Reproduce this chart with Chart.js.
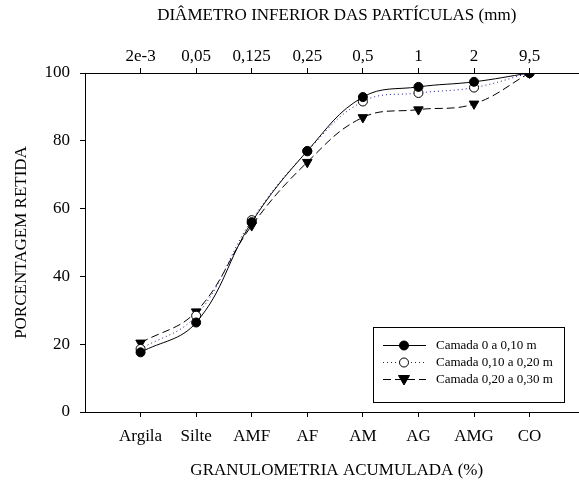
<!DOCTYPE html>
<html>
<head>
<meta charset="utf-8">
<script src="https://cdn.jsdelivr.net/npm/chart.js@4.4.1/dist/chart.umd.min.js"></script>
<style>
  html, body { margin: 0; padding: 0; background: #fff; overflow: hidden; }
  #wrap { width: 579px; height: 483px; overflow: hidden; }
</style>
</head>
<body>
<!-- the plot runs a little past the right edge, like the cropped original -->
<div id="wrap"><canvas id="granChart" width="595" height="483"></canvas></div>
<script>
// categories (bottom) and particle diameters (top)
const categories = ['Argila', 'Silte', 'AMF', 'AF', 'AM', 'AG', 'AMG', 'CO'];
const diameters = ['2e-3', '0,05', '0,125', '0,25', '0,5', '1', '2', '9,5'];

// cumulative retained percentage per layer
const camada1 = [17.6, 26.4, 56.0, 77.0, 92.9, 95.9, 97.4, 100];
const camada2 = [18.6, 28.4, 56.6, 76.9, 91.6, 94.1, 95.7, 100];
const camada3 = [20.4, 29.6, 55.0, 73.7, 86.9, 89.2, 90.9, 100];

const seriesNames = ['Camada 0 a 0,10 m', 'Camada 0,10 a 0,20 m', 'Camada 0,20 a 0,30 m'];
const yTicks = [0, 20, 40, 60, 80, 100];

const serif = 'Liberation Serif, Times New Roman, serif';
const xMax = 9.06;

function toPoints(values) {
    return values.map((v, i) => ({ x: i + 1, y: v }));
}

// draws one marker shape at (x, y)
function drawMarker(ctx, style, x, y) {
    ctx.save();
    ctx.lineWidth = 1;
    ctx.strokeStyle = '#000';
    ctx.setLineDash([]);
    if (style === 'filled') {
        ctx.fillStyle = '#000';
        ctx.beginPath(); ctx.arc(x, y, 4.5, 0, Math.PI * 2); ctx.fill(); ctx.stroke();
    } else if (style === 'open') {
        ctx.fillStyle = '#fff';
        ctx.beginPath(); ctx.arc(x, y, 4.5, 0, Math.PI * 2); ctx.fill(); ctx.stroke();
    } else {
        ctx.fillStyle = '#000';
        ctx.beginPath();
        ctx.moveTo(x - 5.5, y - 4);
        ctx.lineTo(x + 5.5, y - 4);
        ctx.lineTo(x, y + 5.5);
        ctx.closePath(); ctx.fill(); ctx.stroke();
    }
    ctx.restore();
}

// boxed legend with line sample + marker, like the original figure
const boxLegend = {
    id: 'boxLegend',
    afterDraw(chart) {
        const ctx = chart.ctx;
        const left = 373, top = 327, right = 564, bottom = 402;
        ctx.save();
        ctx.fillStyle = '#fff';
        ctx.fillRect(left, top, right - left, bottom - top);
        ctx.strokeStyle = '#000';
        ctx.lineWidth = 1;
        ctx.strokeRect(left + 0.5, top + 0.5, right - left, bottom - top);
        const rows = [345, 362, 379];
        const markers = ['filled', 'open', 'tri'];
        chart.data.datasets.forEach((ds, i) => {
            const y = rows[i];
            ctx.beginPath();
            ctx.strokeStyle = ds.borderColor;
            ctx.lineWidth = 1;
            ctx.setLineDash(ds.borderDash || []);
            ctx.moveTo(383, y + 0.5);
            ctx.lineTo(426, y + 0.5);
            ctx.stroke();
            drawMarker(ctx, markers[i], 404, y + 0.5);
            ctx.fillStyle = '#000';
            ctx.font = '13px ' + serif;
            ctx.textBaseline = 'middle';
            ctx.fillText(ds.label, 436, y + 1);
        });
        ctx.restore();
    }
};

const ctx = document.getElementById('granChart').getContext('2d');

new Chart(ctx, {
    type: 'line',
    data: {
        datasets: [{
            label: seriesNames[0],
            data: toPoints(camada1),
            borderColor: '#000',
            borderWidth: 1,
            tension: 0.4,
            pointStyle: 'circle',
            pointRadius: 4.5,
            pointBackgroundColor: '#000',
            pointBorderColor: '#000',
            xAxisID: 'x', yAxisID: 'y'
        }, {
            label: seriesNames[1],
            data: toPoints(camada2),
            borderColor: '#1a1a8c',
            borderWidth: 1,
            borderDash: [1, 3],
            tension: 0.4,
            pointStyle: 'circle',
            pointRadius: 4.5,
            pointBackgroundColor: '#fff',
            pointBorderColor: '#000',
            xAxisID: 'x', yAxisID: 'y'
        }, {
            label: seriesNames[2],
            data: toPoints(camada3),
            borderColor: '#000',
            borderWidth: 1,
            borderDash: [8, 4],
            tension: 0.4,
            pointStyle: 'triangle',
            pointRotation: 180,
            pointRadius: 5.5,
            pointBackgroundColor: '#000',
            pointBorderColor: '#000',
            xAxisID: 'x', yAxisID: 'y'
        }]
    },
    options: {
        responsive: false,
        animation: false,
        layout: { padding: 0 },
        plugins: {
            legend: { display: false },
            tooltip: { enabled: false }
        },
        scales: {
            x: {
                type: 'linear',
                position: 'bottom',
                min: 0,
                max: xMax,
                afterBuildTicks: (scale) => { scale.ticks = categories.map((c, i) => ({ value: i + 1 })); },
                afterFit: (scale) => { scale.height = 71; },
                ticks: {
                    callback: (v) => categories[v - 1],
                    color: '#000',
                    font: { family: serif, size: 17 },
                    padding: 9,
                    maxRotation: 0,
                    autoSkip: false
                },
                grid: { drawOnChartArea: false, drawTicks: true, tickLength: 5, tickColor: '#000' },
                border: { display: true, color: '#000', width: 1 },
                title: {
                    display: true,
                    text: 'GRANULOMETRIA ACUMULADA (%)',
                    color: '#000',
                    font: { family: serif, size: 17 },
                    padding: { top: 0, bottom: 2 }
                }
            },
            x2: {
                type: 'linear',
                position: 'top',
                display: true,
                min: 0,
                max: xMax,
                afterBuildTicks: (scale) => { scale.ticks = diameters.map((d, i) => ({ value: i + 1 })); },
                afterFit: (scale) => { scale.height = 73; },
                ticks: {
                    callback: (v) => diameters[v - 1],
                    color: '#000',
                    font: { family: serif, size: 17 },
                    padding: 1,
                    maxRotation: 0,
                    autoSkip: false
                },
                grid: { drawOnChartArea: false, drawTicks: true, tickLength: 5, tickColor: '#000' },
                border: { display: true, color: '#000', width: 1 },
                title: {
                    display: true,
                    text: 'DIÂMETRO INFERIOR DAS PARTÍCULAS (mm)',
                    color: '#000',
                    font: { family: serif, size: 17 },
                    padding: { top: 5, bottom: 0 }
                }
            },
            y: {
                type: 'linear',
                position: 'left',
                min: 0,
                max: 100,
                afterBuildTicks: (scale) => { scale.ticks = yTicks.map(v => ({ value: v })); },
                afterFit: (scale) => { scale.width = 85; },
                ticks: {
                    color: '#000',
                    font: { family: serif, size: 17 },
                    padding: 10
                },
                grid: { drawOnChartArea: false, drawTicks: true, tickLength: 5, tickColor: '#000' },
                border: { display: true, color: '#000', width: 1 },
                title: {
                    display: true,
                    text: 'PORCENTAGEM RETIDA',
                    color: '#000',
                    font: { family: serif, size: 17 },
                    padding: { top: 11, bottom: 0 }
                }
            }
        }
    },
    plugins: [boxLegend]
});
</script>
</body>
</html>
